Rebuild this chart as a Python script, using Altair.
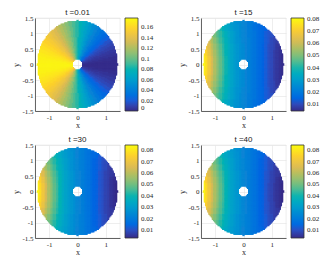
import numpy as np
import pandas as pd
import altair as alt

# ---------------- data ----------------
PARULA = ['#352a87', '#0363e1', '#1485d4', '#06a7c6', '#38b99e',
          '#92bf73', '#d9ba56', '#fcce2e', '#f9fb0e']

titles = ["t =0.01", "t =15", "t =30", "t =40"]

# panel 1: value by polar angle (deg from +x axis, symmetric in y)
angles_t001 = list(range(0, 181, 5))
values_t001 = [0.001, 0.001, 0.002, 0.004, 0.006, 0.009, 0.012, 0.016, 0.021, 0.026,
               0.031, 0.037, 0.043, 0.050, 0.057, 0.064, 0.071, 0.078, 0.086, 0.093,
               0.100, 0.108, 0.115, 0.122, 0.129, 0.135, 0.141, 0.147, 0.152, 0.157,
               0.161, 0.165, 0.168, 0.171, 0.173, 0.174, 0.175]

# panels 2-4: value tables, columns = x (-1.4 .. 1.4 by 0.1), rows = |y| (0 .. 1.4 by 0.2)
x_cols = [round(-1.4 + 0.1 * k, 1) for k in range(29)]
y_rows = [0.0, 0.2, 0.4, 0.6, 0.8, 1.0, 1.2, 1.4]

values_t15 = [
    [.079, .075, .068, .062, .056, .051, .047, .043, .039, .035, .032, .030, .028, .026, .025, .023, .022, .020, .019, .017, .016, .014, .013, .011, .010, .008, .007, .006, .005],
    [.078, .074, .068, .062, .056, .051, .047, .043, .039, .035, .032, .030, .028, .026, .025, .023, .022, .020, .019, .017, .016, .014, .013, .011, .010, .008, .007, .006, .005],
    [.076, .072, .066, .060, .055, .050, .046, .042, .038, .035, .032, .030, .028, .026, .025, .023, .022, .020, .019, .017, .016, .014, .013, .011, .010, .008, .007, .006, .005],
    [.073, .069, .064, .058, .053, .049, .045, .041, .038, .035, .032, .030, .028, .026, .025, .023, .022, .020, .019, .017, .016, .014, .013, .011, .010, .009, .007, .006, .006],
    [.069, .065, .061, .056, .051, .047, .043, .040, .037, .034, .031, .029, .027, .026, .024, .023, .022, .020, .019, .017, .016, .015, .013, .012, .010, .009, .008, .007, .006],
    [.064, .061, .057, .053, .049, .045, .042, .039, .036, .033, .031, .029, .027, .025, .024, .023, .021, .020, .019, .017, .016, .015, .013, .012, .011, .009, .008, .007, .007],
    [.059, .056, .053, .050, .046, .043, .040, .037, .034, .032, .030, .028, .027, .025, .024, .023, .021, .020, .018, .017, .016, .015, .014, .012, .011, .010, .009, .008, .007],
    [.055, .052, .049, .046, .043, .041, .038, .035, .033, .031, .029, .028, .026, .025, .024, .023, .021, .020, .018, .017, .016, .015, .014, .013, .011, .010, .009, .008, .008],
]
values_t30 = [
    [.083, .078, .071, .064, .058, .053, .048, .044, .039, .035, .032, .030, .028, .026, .024, .023, .021, .019, .018, .016, .014, .013, .011, .010, .008, .007, .005, .004, .003],
    [.082, .077, .071, .064, .058, .053, .048, .044, .039, .035, .032, .030, .028, .026, .024, .023, .021, .019, .018, .016, .014, .013, .011, .010, .008, .007, .005, .004, .003],
    [.079, .075, .069, .062, .057, .052, .047, .043, .039, .035, .032, .030, .028, .026, .024, .023, .021, .019, .018, .016, .014, .013, .011, .010, .008, .007, .005, .004, .004],
    [.075, .071, .066, .060, .055, .050, .046, .042, .038, .035, .032, .030, .028, .026, .024, .023, .021, .019, .018, .016, .014, .013, .011, .010, .008, .007, .006, .005, .004],
    [.071, .067, .062, .057, .052, .048, .044, .040, .037, .034, .031, .029, .027, .025, .024, .022, .021, .019, .018, .016, .014, .013, .012, .010, .009, .007, .006, .005, .005],
    [.066, .062, .058, .054, .050, .046, .042, .039, .036, .033, .031, .029, .027, .025, .024, .022, .021, .019, .018, .016, .014, .013, .012, .010, .009, .008, .007, .006, .005],
    [.060, .057, .054, .050, .047, .043, .040, .037, .034, .032, .030, .028, .027, .025, .023, .022, .021, .019, .018, .016, .015, .014, .012, .011, .009, .008, .007, .006, .006],
    [.056, .053, .050, .047, .044, .041, .039, .035, .033, .031, .029, .028, .026, .025, .023, .022, .021, .019, .018, .016, .015, .014, .013, .011, .010, .009, .008, .007, .006],
]
values_t40 = [
    [.083, .077, .071, .064, .058, .053, .048, .044, .039, .035, .032, .030, .028, .026, .024, .023, .021, .019, .018, .016, .014, .013, .011, .009, .008, .006, .005, .004, .003],
    [.082, .077, .070, .064, .058, .053, .048, .044, .039, .035, .032, .030, .028, .026, .024, .023, .021, .019, .018, .016, .014, .013, .011, .009, .008, .006, .005, .004, .003],
    [.079, .074, .068, .062, .057, .052, .047, .043, .039, .035, .032, .030, .028, .026, .024, .023, .021, .019, .018, .016, .014, .013, .011, .010, .008, .007, .005, .004, .004],
    [.075, .071, .065, .060, .055, .050, .046, .042, .038, .035, .032, .030, .028, .026, .024, .023, .021, .019, .018, .016, .014, .013, .011, .010, .008, .007, .006, .005, .004],
    [.071, .067, .062, .057, .052, .048, .044, .040, .037, .034, .031, .029, .027, .025, .024, .022, .021, .019, .018, .016, .014, .013, .012, .010, .009, .007, .006, .005, .005],
    [.066, .062, .058, .054, .050, .046, .042, .039, .036, .033, .031, .029, .027, .025, .024, .022, .021, .019, .018, .016, .014, .013, .012, .010, .009, .008, .007, .006, .005],
    [.060, .057, .054, .050, .047, .043, .040, .037, .034, .032, .030, .028, .027, .025, .023, .022, .021, .019, .018, .016, .015, .014, .012, .011, .009, .008, .007, .006, .006],
    [.056, .053, .050, .047, .044, .041, .039, .035, .033, .031, .029, .028, .026, .025, .023, .022, .021, .019, .018, .016, .015, .014, .013, .011, .010, .009, .008, .007, .006],
]

cbar_limits = [[0.0, 0.178], [0.0045, 0.0805], [0.003, 0.0847], [0.003, 0.0845]]
cbar_ticks = [[0, 0.02, 0.04, 0.06, 0.08, 0.1, 0.12, 0.14, 0.16],
              [0.01, 0.02, 0.03, 0.04, 0.05, 0.06, 0.07, 0.08],
              [0.01, 0.02, 0.03, 0.04, 0.05, 0.06, 0.07, 0.08],
              [0.01, 0.02, 0.03, 0.04, 0.05, 0.06, 0.07, 0.08]]

R_IN, R_OUT = 0.20, 1.40
STEP = 0.04
HALF = 0.04   # cells overlap their neighbours so no white seams show

# ---------------- mesh (geometry) ----------------
g = np.round(np.arange(-1.44, 1.4401, STEP), 4)
CX, CY = np.meshgrid(g, g)
CX, CY = CX.ravel(), CY.ravel()
RR = np.hypot(CX, CY)
m = (RR >= R_IN) & (RR <= R_OUT)
CX, CY = CX[m], CY[m]


def cells(v):
    return pd.DataFrame({"x0": CX - HALF, "x1": CX + HALF,
                         "y0": CY - HALF, "y1": CY + HALF, "v": v})


def frame_polar(angles, vals):
    th = np.degrees(np.arctan2(np.abs(CY), CX))
    idx = np.clip(np.round(th / (angles[1] - angles[0])).astype(int), 0, len(vals) - 1)
    return cells(np.array(vals)[idx])


def frame_table(table):
    arr = np.array(table)
    ix = np.clip(np.round((CX - x_cols[0]) / (x_cols[1] - x_cols[0])).astype(int), 0, len(x_cols) - 1)
    iy = np.clip(np.round(np.abs(CY) / (y_rows[1] - y_rows[0])).astype(int), 0, len(y_rows) - 1)
    return cells(arr[iy, ix])


frames = [frame_polar(angles_t001, values_t001),
          frame_table(values_t15), frame_table(values_t30), frame_table(values_t40)]

SERIF = "Liberation Serif"
SANS = "Liberation Sans"
W, H = 85, 93

XS = alt.Scale(domain=[-1.5, 1.5], nice=False, zero=False)
YS = alt.Scale(domain=[-1.5, 1.5], nice=False, zero=False)
XA = alt.Axis(values=[-1, 0, 1], title="x", labelExpr="datum.value + ''")
YA = alt.Axis(values=[-1.5, -1, -0.5, 0, 0.5, 1, 1.5], title="y", labelExpr="datum.value + ''")


def panel(i):
    heat = alt.Chart(frames[i]).mark_rect(strokeWidth=0).encode(
        x=alt.X("x0:Q", scale=XS, axis=XA),
        x2="x1:Q",
        y=alt.Y("y0:Q", scale=YS, axis=YA),
        y2="y1:Q",
        color=alt.Color("v:Q",
                        scale=alt.Scale(domain=cbar_limits[i], range=PARULA, nice=False, zero=False),
                        legend=alt.Legend(values=cbar_ticks[i], format=".2~f", title=None,
                                          gradientLength=H, gradientThickness=13, offset=5,
                                          padding=0, labelFontSize=7, labelFont=SERIF,
                                          labelColor="#262626", gradientStrokeColor="#333333",
                                          gradientStrokeWidth=0.8, labelOffset=3,
                                          labelOverlap=False, direction="vertical",
                                          orient="right")),
    )
    ttl = alt.Chart(pd.DataFrame({"t": [titles[i]]})).mark_text(
        font=SANS, fontSize=8, color="#1a1a1a", baseline="bottom", align="center", dy=-1
    ).encode(x=alt.XDatum(0, scale=XS, axis=XA), y=alt.YDatum(1.5, scale=YS, axis=YA),
             text="t:N")
    return alt.layer(heat, ttl).properties(width=W, height=H)


def row(a, b):
    return alt.hconcat(panel(a), panel(b), spacing=23).resolve_scale(
        color="independent", x="independent", y="independent").resolve_legend(color="independent")


chart = alt.vconcat(row(0, 1), row(2, 3), spacing=5).resolve_scale(
    color="independent", x="independent", y="independent").resolve_legend(
    color="independent").properties(
    padding={"left": 4, "top": 0, "right": 0, "bottom": 0}
).configure_axis(
    labelFont=SERIF, labelFontSize=7, labelColor="#262626",
    titleFont=SERIF, titleFontSize=8, titleFontWeight="normal", titleColor="#262626",
    grid=True, gridColor="#e3e3e3", gridWidth=0.6,
    domainColor="#262626", domainWidth=0.7, ticks=False,
    labelPadding=2, titlePadding=1, labelOverlap=False,
).configure_view(stroke="#e3e3e3", strokeWidth=0.6)

chart.save("out.html", embed_options={"renderer": "svg", "actions": False})
